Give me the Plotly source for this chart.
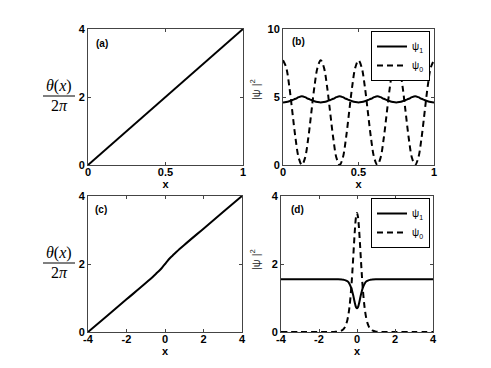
import plotly.graph_objects as go

W, H = 491, 368

# ---------------- data ----------------
# (a) theta(x)/2pi, x in [0,1]
xa = [0, 0.125, 0.25, 0.375, 0.5, 0.625, 0.75, 0.875, 1.0]
ya = [0, 0.5, 1.0, 1.5, 2.0, 2.5, 3.0, 3.5, 4.0]

# (b) |psi|^2, x in [0,1]
xb = [k / 48 for k in range(49)]
psi1_b = [4.6, 4.63, 4.69, 4.78, 4.87, 4.99, 5.05, 4.99, 4.87, 4.78, 4.69, 4.63,
          4.6, 4.63, 4.69, 4.78, 4.87, 4.99, 5.05, 4.99, 4.87, 4.78, 4.69, 4.63,
          4.6, 4.63, 4.69, 4.78, 4.87, 4.99, 5.05, 4.99, 4.87, 4.78, 4.69, 4.63,
          4.6, 4.63, 4.69, 4.78, 4.87, 4.99, 5.05, 4.99, 4.87, 4.78, 4.69, 4.63,
          4.6]
psi0_b = [7.7, 7.18, 5.78, 3.85, 1.93, 0.52, 0.0, 0.52, 1.93, 3.85, 5.78, 7.18,
          7.7, 7.18, 5.78, 3.85, 1.93, 0.52, 0.0, 0.52, 1.93, 3.85, 5.78, 7.18,
          7.7, 7.18, 5.78, 3.85, 1.93, 0.52, 0.0, 0.52, 1.93, 3.85, 5.78, 7.18,
          7.7, 7.18, 5.78, 3.85, 1.93, 0.52, 0.0, 0.52, 1.93, 3.85, 5.78, 7.18,
          7.7]

# (c) theta(x)/2pi, x in [-4,4]
xc = [-4, -3, -2, -1, -0.6, -0.4, -0.25, -0.1, 0, 0.1, 0.25, 0.4, 0.6, 1, 2, 3, 4]
yc = [0, 0.48, 0.96, 1.44, 1.64, 1.75, 1.83, 1.93, 2.0, 2.07, 2.17, 2.25, 2.36, 2.56, 3.04, 3.52, 4.0]

# (d) |psi|^2, x in [-4,4]
xd = [-4, -3, -2, -1.5, -1.2, -1.0, -0.8, -0.7, -0.6, -0.5, -0.4, -0.3, -0.25, -0.2,
      -0.15, -0.1, -0.05, 0, 0.05, 0.1, 0.15, 0.2, 0.25, 0.3, 0.4, 0.5, 0.6, 0.7,
      0.8, 1.0, 1.2, 1.5, 2, 3, 4]
psi1_d = [1.55, 1.55, 1.55, 1.55, 1.55, 1.549, 1.544, 1.535, 1.52, 1.49, 1.42, 1.29,
          1.19, 1.08, 0.95, 0.82, 0.73, 0.70, 0.73, 0.82, 0.95, 1.08, 1.19, 1.29,
          1.42, 1.49, 1.52, 1.535, 1.544, 1.549, 1.55, 1.55, 1.55, 1.55, 1.55]
psi0_d = [0, 0, 0, 0, 0.003, 0.011, 0.046, 0.09, 0.19, 0.37, 0.72, 1.31, 1.72, 2.18,
          2.66, 3.09, 3.39, 3.5, 3.39, 3.09, 2.66, 2.18, 1.72, 1.31, 0.72, 0.37,
          0.19, 0.09, 0.046, 0.011, 0.003, 0, 0, 0, 0]

tick_a_x = [0, 0.5, 1]
tick_a_y = [0, 2, 4]
tick_b_y = [0, 5, 10]
tick_c_x = [-4, -2, 0, 2, 4]

# ---------------- figure ----------------
def px(x):
    return x / W

def py(y):
    return 1 - y / H

fig = go.Figure()
LW = 2
DASH = "6px,4px"

fig.add_trace(go.Scatter(x=xa, y=ya, mode="lines", line=dict(color="black", width=LW),
                         showlegend=False, xaxis="x", yaxis="y"))
fig.add_trace(go.Scatter(x=xb, y=psi1_b, mode="lines", name="ψ<sub>1</sub>",
                         line=dict(color="black", width=LW, shape="spline"),
                         xaxis="x2", yaxis="y2", legend="legend"))
fig.add_trace(go.Scatter(x=xb, y=psi0_b, mode="lines", name="ψ<sub>0</sub>",
                         line=dict(color="black", width=LW, dash=DASH, shape="spline"),
                         xaxis="x2", yaxis="y2", legend="legend"))
fig.add_trace(go.Scatter(x=xc, y=yc, mode="lines", line=dict(color="black", width=LW, shape="spline"),
                         showlegend=False, xaxis="x3", yaxis="y3"))
fig.add_trace(go.Scatter(x=xd, y=psi1_d, mode="lines", name="ψ<sub>1</sub>",
                         line=dict(color="black", width=LW, shape="spline"),
                         xaxis="x4", yaxis="y4", legend="legend2"))
fig.add_trace(go.Scatter(x=xd, y=psi0_d, mode="lines", name="ψ<sub>0</sub>",
                         line=dict(color="black", width=LW, dash=DASH, shape="spline"),
                         xaxis="x4", yaxis="y4", legend="legend2"))

FONT = "Liberation Sans, Arial, Helvetica, sans-serif"
tickfont = dict(family=FONT, size=11, color="black", weight="bold")
AXC = "#444444"

def axis(domain, rng, ticks, anchor, title=None, is_x=True):
    d = dict(domain=domain, range=rng, tickvals=ticks, ticktext=[("%g" % t) for t in ticks],
             ticks="inside", ticklen=3, tickwidth=1, tickcolor=AXC,
             showline=True, linecolor=AXC, linewidth=1, mirror="ticks",
             showgrid=False, zeroline=False, tickfont=tickfont, anchor=anchor,
             automargin=False, ticklabelstandoff=(-3 if is_x else 0))
    if title is not None:
        d["title"] = dict(text=title, standoff=0,
                          font=dict(family=FONT, size=11, color="black", weight="bold"))
    return d

top = [py(165), py(29)]
bot = [py(332), py(196)]
left_top = [px(88), px(243)]
right_top = [px(283), px(434)]
left_bot = [px(88), px(242)]
right_bot = [px(281), px(433)]

legfont = dict(family=FONT, size=10, color="black")
fig.update_layout(
    width=W, height=H, margin=dict(l=0, r=0, t=0, b=0, autoexpand=False),
    paper_bgcolor="white", plot_bgcolor="white",
    xaxis=axis(left_top, [0, 1], tick_a_x, "y", "x"),
    yaxis=axis(top, [0, 4], tick_a_y, "x", is_x=False),
    xaxis2=axis(right_top, [0, 1], tick_a_x, "y2", "x"),
    yaxis2=axis(top, [0, 10], tick_b_y, "x2", is_x=False),
    xaxis3=axis(left_bot, [-4, 4], tick_c_x, "y3", "x"),
    yaxis3=axis(bot, [0, 4], tick_a_y, "x3", is_x=False),
    xaxis4=axis(right_bot, [-4, 4], tick_c_x, "y4", "x"),
    yaxis4=axis(bot, [0, 4], tick_a_y, "x4", is_x=False),
    legend=dict(x=px(430), y=py(31), xanchor="right", yanchor="top",
                bordercolor="black", borderwidth=1, bgcolor="white",
                font=legfont, itemwidth=30, tracegroupgap=0),
    legend2=dict(x=px(430), y=py(198), xanchor="right", yanchor="top",
                 bordercolor="black", borderwidth=1, bgcolor="white",
                 font=legfont, itemwidth=30, tracegroupgap=0),
)

ann = []
shapes = []
# panel labels
for lab, x, y in [("(a)", 102, 43), ("(b)", 298, 41), ("(c)", 101, 209), ("(d)", 297, 209)]:
    ann.append(dict(text=lab, x=px(x), y=py(y), xref="paper", yref="paper", showarrow=False,
                    xanchor="center", yanchor="middle",
                    font=dict(family=FONT, size=10, color="black", weight="bold")))
# y titles of right panels
for yc_ in (90, 260):
    ann.append(dict(text="|ψ |<sup>2</sup>", x=px(255), y=py(yc_), xref="paper", yref="paper",
                    showarrow=False, xanchor="center", yanchor="middle", textangle=-90,
                    font=dict(family=FONT, size=11, color="#222222")))
# fraction y labels theta(x)/2pi
SERIF = "Liberation Serif, DejaVu Serif, serif"
for ybar in (96, 263):
    ann.append(dict(text="<i>θ</i>(<i>x</i>)", x=px(59), y=py(ybar - 10), xref="paper", yref="paper",
                    showarrow=False, xanchor="center", yanchor="middle",
                    font=dict(family=SERIF, size=16, color="black")))
    ann.append(dict(text="2<i>π</i>", x=px(59), y=py(ybar + 9), xref="paper", yref="paper",
                    showarrow=False, xanchor="center", yanchor="middle",
                    font=dict(family=SERIF, size=16, color="black")))
    shapes.append(dict(type="line", xref="paper", yref="paper", x0=px(43), x1=px(75),
                       y0=py(ybar), y1=py(ybar), line=dict(color="black", width=1)))

fig.update_layout(annotations=ann, shapes=shapes)
fig.write_html("out.html", config={"displayModeBar": False},
               post_script="document.body.style.margin='0';")
